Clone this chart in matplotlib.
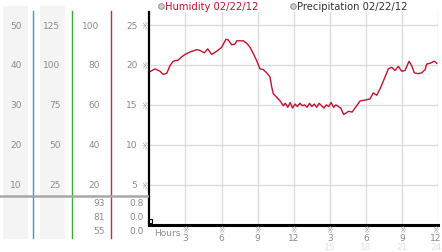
import matplotlib.pyplot as plt
from matplotlib.transforms import blended_transform_factory
from matplotlib.patches import Rectangle

# humidity trace, hours since midnight
hours = [0.00, 0.47, 0.89, 1.16, 1.45, 1.72, 1.99, 2.41, 2.69, 2.97, 3.38, 3.94,
         4.21, 4.57, 4.85, 5.18, 5.60, 6.01, 6.37, 6.56, 6.84, 7.12, 7.26, 7.81,
         8.09, 8.36, 8.64, 8.92, 9.19, 9.47, 9.75, 10.02, 10.17, 10.30, 10.58, 10.86,
         11.13, 11.3, 11.5, 11.7, 11.9, 12.1, 12.3, 12.5, 12.7, 12.9, 13.1, 13.3,
         13.5, 13.7, 13.9, 14.1, 14.3, 14.5, 14.7, 14.9, 15.1, 15.3, 15.5, 15.7,
         15.9, 16.14, 16.56, 16.84, 17.23, 17.5, 17.91, 18.33, 18.60, 18.89, 19.16, 19.58,
         19.85, 20.13, 20.4, 20.68, 20.96, 21.24, 21.57, 21.79, 22.01, 22.34, 22.62, 22.90,
         23.04, 23.31, 23.67, 23.87]
humidity = [19.1, 19.5, 19.2, 18.8, 18.95, 19.9, 20.45, 20.6, 21.0, 21.3, 21.6, 21.9,
            21.8, 21.5, 22.0, 21.3, 21.7, 22.2, 23.2, 23.1, 22.5, 22.6, 23.0, 23.0,
            22.7, 22.2, 21.4, 20.5, 19.5, 19.4, 19.0, 18.5, 17.2, 16.4, 15.95, 15.5,
            14.9, 15.2, 14.7, 15.3, 14.6, 15.1, 14.8, 15.2, 14.9, 15.0, 14.7, 15.2,
            14.8, 15.1, 14.7, 15.2, 14.9, 14.6, 15.0, 14.8, 15.3, 14.7, 15.0, 14.8,
            14.6, 13.8, 14.2, 14.1, 14.9, 15.5, 15.6, 15.75, 16.5, 16.2, 17.0, 18.5,
            19.5, 19.7, 19.3, 19.8, 19.2, 19.3, 20.45, 19.9, 19.0, 18.9, 19.0, 19.4,
            20.1, 20.2, 20.45, 20.2]

y_ticks = [5, 10, 15, 20, 25]
col1_labels = ["10", "20", "30", "40", "50"]
col2_labels = ["25", "50", "75", "100", "125"]
col3_labels = ["20", "40", "60", "80", "100"]
col4_labels = ["5", "10", "15", "20", "25"]
low_col3 = ["93", "81", "55"]
low_col4 = ["0.8", "0.0", "0.0"]

x_ticks = [3, 6, 9, 12, 15, 18, 21, 24]
x_labels = ["3", "6", "9", "12", "3", "6", "9", "12"]
x_labels2 = ["", "", "", "", "15", "18", "21", "24"]

gray = "#8a8a8a"
red = "#c8102e"

fig = plt.figure(figsize=(4.42, 2.53), dpi=100)

# main plot area (pixel box 149..438 x 13..226)
ax = fig.add_axes([149.3 / 442, 27 / 253, 289 / 442, 213 / 253])
ax.plot(hours, humidity, color=red, lw=1.0)
ax.set_xlim(0, 24)
ax.set_ylim(0, 26.6)
ax.set_xticks(x_ticks)
ax.set_yticks(y_ticks)
ax.grid(True, color="#dcdcdc", lw=1.0)
ax.set_axisbelow(True)
for s in ["top", "right"]:
    ax.spines[s].set_visible(False)
ax.spines["left"].set_linewidth(1.6)
ax.spines["bottom"].set_linewidth(2.2)
ax.tick_params(length=0, labelbottom=False)
ax.set_yticklabels(["※"] * len(y_ticks), fontsize=5.5, color="#999999")
ax.tick_params(axis="y", pad=1)

tr = blended_transform_factory(ax.transData, ax.transAxes)
for xt, l1, l2 in zip(x_ticks, x_labels, x_labels2):
    xp = min(xt, 23.8)
    ax.text(xp, -0.02, "※", transform=tr, ha="center", va="center", fontsize=5.5, color="#999999")
    ax.text(xp, -0.057, l1, transform=tr, ha="center", va="center", fontsize=6.5, color=gray)
    ax.text(xp, -0.103, l2, transform=tr, ha="center", va="center", fontsize=6.5, color="#e0e0e0")
ax.text(0.015, -0.035, "Hours", transform=ax.transAxes, ha="left", va="center",
        fontsize=6.5, color=gray)
ax.plot([0.03], [0.55], marker="s", ms=3, mfc="white", mec="black", mew=0.8,
        clip_on=False)

# left scale panels, x in pixels, y in the same units as the main plot
left = fig.add_axes([0, 0, 149 / 442, 1])
left.set_xlim(0, 149)
left.set_ylim(-3.375, 28.25)
left.axis("off")
for x0 in [3, 40]:
    left.add_patch(Rectangle((x0, -1.75), 25, 29.1, color="#f4f4f4", lw=0))
for xl, c in [(33.3, "#3a9ad0"), (72.3, "#3aaa3a"), (111.3, "#c03030")]:
    left.plot([xl, xl], [-1.6, 26.75], color=c, lw=1.0)
left.plot([0, 149], [3.625, 3.625], color="#a8a8a8", lw=1.8)

for yv, a, b, c, d in zip(y_ticks, col1_labels, col2_labels, col3_labels, col4_labels):
    left.text(21.5, yv, a, ha="right", va="center", fontsize=6.5, color=gray)
    left.text(60.5, yv, b, ha="right", va="center", fontsize=6.5, color=gray)
    left.text(99.5, yv, c, ha="right", va="center", fontsize=6.5, color=gray)
    left.text(137.5, yv, d, ha="right", va="center", fontsize=6.5, color=gray)
for yv, a, b in zip([2.75, 1.0, -0.75], low_col3, low_col4):
    left.text(105, yv, a, ha="right", va="center", fontsize=6.5, color=gray)
    left.text(144, yv, b, ha="right", va="center", fontsize=6.5, color=gray)

# legend across the top
for cx, tx, label, col in [(160.7, 165, "Humidity 02/22/12", red),
                           (292.7, 297, "Precipitation 02/22/12", "#333333")]:
    fig.lines.append(plt.Line2D([cx / 442], [1 - 7 / 253], transform=fig.transFigure,
                                marker="o", ms=4, mfc="#d0d0d0", mec="#999999", mew=0.8))
    fig.text(tx / 442, 1 - 7 / 253, label, ha="left", va="center", fontsize=7.2, color=col)

fig.savefig("out.png", dpi=100)
